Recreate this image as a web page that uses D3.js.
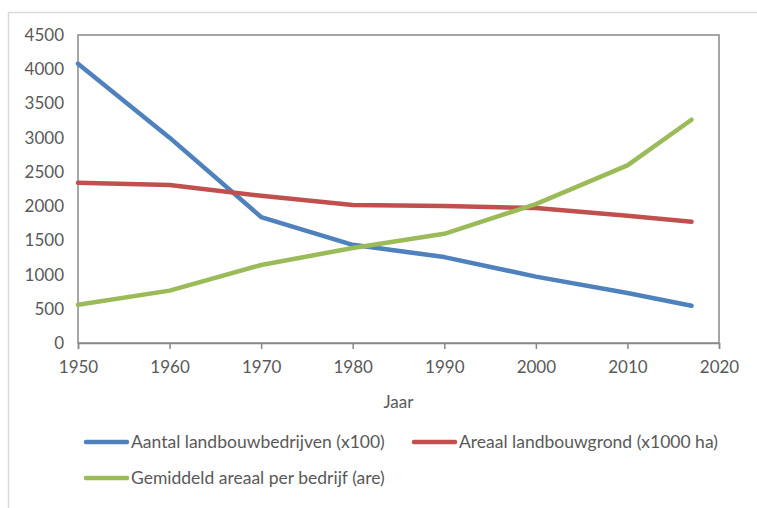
<!DOCTYPE html>
<html>
<head>
<meta charset="utf-8">
<script src="https://cdn.jsdelivr.net/npm/d3@7"></script>
<style>
  body { margin: 0; background: #fff; }
  svg text { font-family: Lato, "Open Sans", sans-serif; fill: #595959; }
</style>
</head>
<body>
<div id="chart"></div>
<script>
//Datos
const years = [1950, 1960, 1970, 1980, 1990, 2000, 2010, 2017];
const bedrijven = [4080, 3000, 1840, 1435, 1255, 970, 730, 545];
const grond = [2340, 2307, 2150, 2016, 2002, 1972, 1860, 1770];
const gemiddeld = [560, 765, 1140, 1388, 1595, 2030, 2595, 3262];
const xTicks = [1950, 1960, 1970, 1980, 1990, 2000, 2010, 2020];
const yTicks = [0, 500, 1000, 1500, 2000, 2500, 3000, 3500, 4000, 4500];

const series = [
    { name: 'Aantal landbouwbedrijven (x100)', values: bedrijven, color: '#4f81bd' },
    { name: 'Areaal landbouwgrond (x1000 ha)', values: grond, color: '#c0504d' },
    { name: 'Gemiddeld areaal per bedrijf (are)', values: gemiddeld, color: '#9bbb59' }
];

let width = 757,
    height = 508;

let margin = { top: 35, right: 38, bottom: 165, left: 78 };
let plotW = width - margin.left - margin.right,
    plotH = height - margin.top - margin.bottom;

let fontSize = '17px';

let svg = d3.select('#chart')
    .append('svg')
        .attr('width', width)
        .attr('height', height);

//Marco exterior
svg.append('rect')
    .attr('x', 8.5)
    .attr('y', 12.5)
    .attr('width', 800)
    .attr('height', 600)
    .attr('fill', 'none')
    .attr('stroke', '#d9d9d9')
    .attr('stroke-width', 1.5);

let g = svg.append('g')
    .attr('transform', 'translate(' + margin.left + ',' + margin.top + ')');

let x = d3.scaleLinear().domain([1950, 2020]).range([0, plotW]);
let y = d3.scaleLinear().domain([0, 4500]).range([plotH, 0]);

//Marco del área de trazado
g.append('rect')
    .attr('x', 0)
    .attr('y', 0)
    .attr('width', plotW)
    .attr('height', plotH)
    .attr('fill', 'none')
    .attr('stroke', '#898989')
    .attr('stroke-width', 1.5);

//Eje X
let xAxis = g.append('g')
    .attr('transform', 'translate(0,' + plotH + ')')
    .call(d3.axisBottom(x).tickValues(xTicks).tickFormat(d3.format('d')).tickSize(6).tickPadding(12));
xAxis.select('.domain').attr('stroke', '#898989').attr('stroke-width', 1.5);
xAxis.selectAll('.tick line').attr('stroke', '#898989').attr('stroke-width', 1.5);
xAxis.selectAll('text').style('font-size', fontSize).attr('fill', '#595959');

//Eje Y
let yAxis = g.append('g')
    .call(d3.axisLeft(y).tickValues(yTicks).tickFormat(d3.format('d')).tickSize(0).tickPadding(14));
yAxis.select('.domain').remove();
yAxis.selectAll('text').style('font-size', fontSize).attr('fill', '#595959');

//Título eje X
g.append('text')
    .attr('x', plotW / 2)
    .attr('y', plotH + 65)
    .attr('text-anchor', 'middle')
    .style('font-size', fontSize)
    .text('Jaar');

//Líneas
let line = d3.line()
    .x(function(d, i) { return x(years[i]); })
    .y(function(d) { return y(d); });

series.forEach(function(s) {
    g.append('path')
        .datum(s.values)
        .attr('d', line)
        .attr('fill', 'none')
        .attr('stroke', s.color)
        .attr('stroke-width', 4.5)
        .attr('stroke-linecap', 'round')
        .attr('stroke-linejoin', 'round');
});

//Leyenda
let legendPos = [[86, 442], [414, 442], [86, 478]];
series.forEach(function(s, i) {
    let lg = svg.append('g')
        .attr('transform', 'translate(' + legendPos[i][0] + ',' + legendPos[i][1] + ')');
    lg.append('line')
        .attr('x1', 0).attr('x2', 41)
        .attr('y1', 0).attr('y2', 0)
        .attr('stroke', s.color)
        .attr('stroke-width', 4.5)
        .attr('stroke-linecap', 'round');
    lg.append('text')
        .attr('x', 45)
        .attr('y', 6)
        .style('font-size', '17.5px')
        .text(s.name);
});
</script>
</body>
</html>
